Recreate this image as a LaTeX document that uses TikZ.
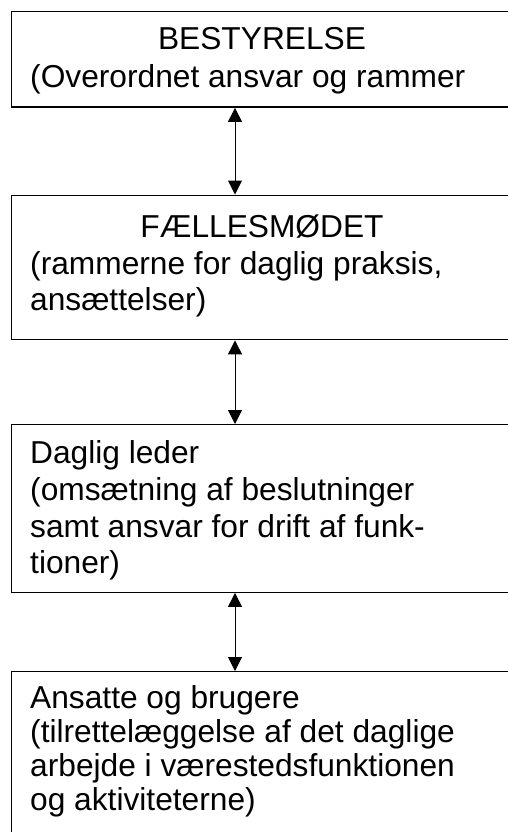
\documentclass[tikz,border=0pt]{standalone}
\usepackage{fontspec}
\setmainfont{Liberation Sans}
\usetikzlibrary{arrows.meta}
\begin{document}
\begin{tikzpicture}[x=1pt,y=-1pt,
  box/.style={draw=black, line width=1.4pt, rectangle, anchor=north west, minimum width=510pt, inner sep=0pt},
  txt/.style={anchor=base west, inner sep=0pt, font=\fontsize{31.7}{36}\selectfont},
  ttl/.style={anchor=base, inner sep=0pt, font=\fontsize{31.7}{36}\selectfont},
  conn/.style={line width=1pt, {Triangle[width=14pt,length=14pt]}-{Triangle[width=14pt,length=14pt]}}]
\useasboundingbox (0,0) rectangle (508,832);
\clip (0,0) rectangle (508,832);
\fill[white] (0,0) rectangle (508,832);
% boxes
\node[box, minimum height=95.5pt] (b1) at (11,11) {};
\node[box, minimum height=144.5pt] (b2) at (11,194.5) {};
\node[box, minimum height=167.5pt] (b3) at (11,424) {};
\node[box, minimum height=189pt] (b4) at (11,671) {};
% texts
\node[ttl] (t11) at (262,50) {BESTYRELSE};
\node[txt] (t12) at (30,88) {(Overordnet ansvar og rammer};
\node[ttl] (t21) at (262,237) {FÆLLESMØDET};
\node[txt] (t22) at (30,274) {(rammerne for daglig praksis,};
\node[txt] (t23) at (30,310) {ansættelser)};
\node[txt] (t31) at (30,463) {Daglig leder};
\node[txt] (t32) at (30,500) {(omsætning af beslutninger};
\node[txt] (t33) at (30,537) {samt ansvar for drift af funk-};
\node[txt] (t34) at (30,573) {tioner)};
\node[txt] (t41) at (30,708) {Ansatte og brugere};
\node[txt] (t42) at (30,742) {(tilrettelæggelse af det daglige};
\node[txt] (t43) at (30,776) {arbejde i værestedsfunktionen};
\node[txt] (t44) at (30,810) {og aktiviteterne)};
% connectors
\coordinate (ax) at (235,0);
\draw[conn] (b1.south -| ax) -- (b2.north -| ax);
\draw[conn] (b2.south -| ax) -- (b3.north -| ax);
\draw[conn] (b3.south -| ax) -- (b4.north -| ax);
\end{tikzpicture}
\end{document}
